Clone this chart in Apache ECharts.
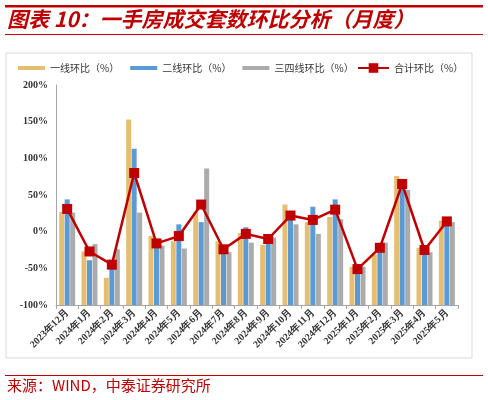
<!DOCTYPE html>
<html><head><meta charset="utf-8">
<script src="https://cdn.jsdelivr.net/npm/echarts@6/dist/echarts.min.js"></script>
<style>html,body{margin:0;padding:0;background:#fff}#c{width:488px;height:400px}</style>
</head><body><div id="c"></div>
<script>
var categories = ['2023年12月','2024年1月','2024年2月','2024年3月','2024年4月','2024年5月','2024年6月','2024年7月','2024年8月','2024年9月','2024年10月','2024年11月','2024年12月','2025年1月','2025年2月','2025年3月','2025年4月','2025年5月'];
var tier1 = [27, -27, -63, 153, -6, -13, 27, -13, -2, -18, 37, 13, 20, -48, -31, 76, -22, 15];
var tier2 = [44, -39, -51, 113, -15, 10, 13, -20, 6, -12, 20, 34, 44, -54, -25, 72, -24, 12];
var tier34 = [26, -17, -24, 26, -19, -23, 86, -28, -15, -8, 10, -3, 17, -48, -15, 57, -28, 13];
var total = [31, -27, -45, 80, -16, -6, 37, -24, -3, -10, 22, 16, 30, -51, -22, 65, -25, 14];
var yTicks = [-100, -50, 0, 50, 100, 150, 200];
var legendNames = ['一线环比（%）','二线环比（%）','三四线环比（%）','合计环比（%）'];

var chart = echarts.init(document.getElementById('c'));
var serif = '"Liberation Serif","DejaVu Serif",serif';
var cjk = '"Noto Sans CJK SC",sans-serif';
chart.setOption({
  animation: false,
  graphic: [
    {type:'rect', shape:{x:5,y:5,width:478,height:2.5}, style:{fill:'#C00000'}},
    {type:'text', left:7, top:9, style:{text:'图表 10：一手房成交套数环比分析（月度）', fill:'#C00000', font:'italic bold 21px "Noto Sans CJK SC", sans-serif'}},
    {type:'rect', shape:{x:5,y:34,width:478,height:1}, style:{fill:'#C00000'}},
    {type:'rect', shape:{x:6,y:53,width:466,height:305}, style:{fill:'none', stroke:'#D9D9D9', lineWidth:1}},
    {type:'rect', shape:{x:5,y:375,width:478,height:1}, style:{fill:'#C00000'}},
    {type:'text', left:7, top:378, style:{text:'来源：WIND，中泰证券研究所', fill:'#C00000', font:'15px "Noto Sans CJK SC", sans-serif'}}
  ],
  legend: [{
    top: 63, left: 18, width: 340, padding: 0, itemGap: 11, itemWidth: 27, itemHeight: 4,
    textStyle: {fontFamily: cjk, fontSize: 10, color: '#333'},
    data: [
      {name: legendNames[0], icon: 'rect'},
      {name: legendNames[1], icon: 'rect'},
      {name: legendNames[2], icon: 'rect'}
    ]
  }, {
    top: 63, left: 357, padding: 0, itemWidth: 31, itemHeight: 12,
    textStyle: {fontFamily: cjk, fontSize: 10, color: '#333'},
    data: [{name: legendNames[3]}]
  }],
  grid: {left: 56, right: 30, top: 85, bottom: 95},
  xAxis: {
    type: 'category', data: categories,
    axisLine: {onZero: false, lineStyle: {color: '#A6A6A6'}},
    axisTick: {show: true, lineStyle: {color: '#A6A6A6'}, length: 4},
    axisLabel: {rotate: 45, fontFamily: serif, fontWeight: 'bold', fontSize: 10, color: '#333', interval: 0, margin: 6}
  },
  yAxis: {
    type: 'value', min: -100, max: 200, interval: 50, startValue: -100,
    axisLine: {show: true, lineStyle: {color: '#A6A6A6'}},
    axisTick: {show: false},
    splitLine: {show: false},
    axisLabel: {formatter: '{value}%', fontFamily: serif, fontWeight: 'bold', fontSize: 10, color: '#333', margin: 8}
  },
  series: [
    {name: legendNames[0], type: 'bar', data: tier1, barWidth: 5, barGap: '10%', itemStyle: {color: '#E6BE72'}},
    {name: legendNames[1], type: 'bar', data: tier2, barWidth: 5, barGap: '10%', itemStyle: {color: '#5B9BD5'}},
    {name: legendNames[2], type: 'bar', data: tier34, barWidth: 5, barGap: '10%', itemStyle: {color: '#ABABAB'}},
    {name: legendNames[3], type: 'line', data: total, symbol: 'rect', symbolSize: 10,
     lineStyle: {color: '#C00000', width: 2.5}, itemStyle: {color: '#C00000'}, z: 5}
  ]
});
</script></body></html>
